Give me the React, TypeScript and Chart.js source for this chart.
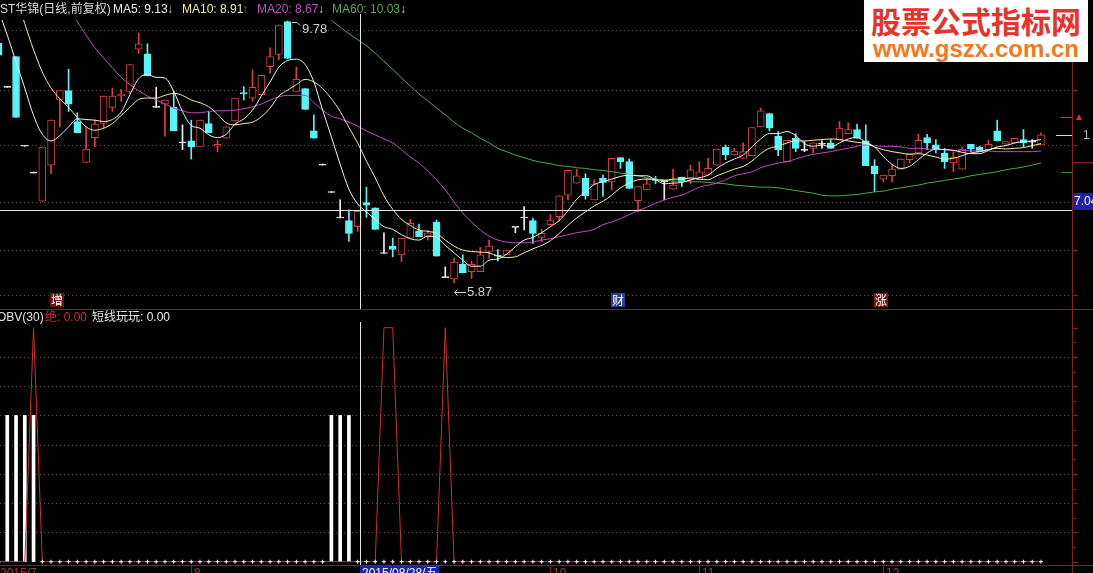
import { useEffect, useRef } from 'react';
import { Chart, registerables } from 'chart.js';

Chart.register(...registerables);

// Daily bars, numbered from the first (partly hidden) session.
const FIRST_DAY = -1;

const OPEN = [
  9.45, 8.79, 9.25, 7.91, 7.51, 7.09, 7.63, 8.61, 8.74, 8.28,
  7.67, 8.04, 8.25, 8.49, 8.66, 8.73, 9.36, 9.29, 8.49, 8.54,
  8.49, 7.96, 7.99, 7.90, 8.25, 7.91, 8.03, 8.29, 8.71, 8.63,
  8.68, 9.10, 9.28, 9.77, 8.73, 8.77, 8.14, 7.63, 7.22, 6.84,
  6.80, 6.71, 7.07, 6.99, 6.31, 6.42, 6.29, 6.54, 6.65, 6.56,
  6.78, 5.95, 5.93, 6.15, 6.04, 6.04, 6.34, 6.28, 6.29, 6.70,
  6.84, 6.80, 6.55, 6.74, 6.86, 7.18, 7.36, 7.43, 7.11, 7.43,
  7.38, 7.74, 7.68, 7.10, 7.26, 7.41, 7.38, 7.27, 7.45, 7.42,
  7.41, 7.48, 7.63, 7.90, 7.78, 7.73, 7.77, 8.20, 8.40, 8.06,
  7.68, 8.03, 7.85, 7.88, 7.94, 7.96, 8.00, 8.10, 8.16, 7.99,
  7.62, 7.42, 7.47, 7.57, 7.71, 7.81, 8.04, 7.93, 7.81, 7.66,
  7.57, 7.94, 7.90, 7.86, 8.14, 7.94, 7.96, 8.01, 7.97, 7.93,
];
const HIGH = [
  9.50, 8.79, 9.25, 7.91, 7.51, 7.90, 8.30, 8.74, 9.06, 8.41,
  8.20, 8.30, 8.66, 8.78, 8.76, 9.13, 9.60, 9.44, 8.79, 8.60,
  8.73, 8.23, 8.30, 8.30, 8.43, 8.00, 8.20, 8.63, 8.80, 9.05,
  8.97, 9.38, 9.72, 9.78, 9.09, 8.77, 8.38, 7.63, 7.22, 7.11,
  6.96, 6.94, 7.30, 6.99, 6.62, 6.54, 6.54, 6.82, 6.75, 6.66,
  6.81, 6.11, 6.24, 6.29, 6.19, 6.40, 6.51, 6.37, 6.36, 6.70,
  7.01, 6.84, 6.67, 6.89, 7.17, 7.55, 7.57, 7.50, 7.41, 7.48,
  7.73, 7.74, 7.72, 7.31, 7.43, 7.46, 7.38, 7.57, 7.45, 7.63,
  7.68, 7.73, 7.87, 7.93, 7.88, 7.96, 8.19, 8.48, 8.40, 8.13,
  8.00, 8.10, 7.98, 7.96, 7.99, 8.01, 8.28, 8.26, 8.24, 8.23,
  7.71, 7.48, 7.63, 7.72, 7.80, 8.09, 8.09, 8.01, 7.88, 7.83,
  7.90, 7.94, 7.91, 8.00, 8.30, 7.98, 8.03, 8.16, 8.01, 8.11,
];
const LOW = [
  9.24, 8.79, 8.34, 7.91, 7.51, 7.09, 7.50, 8.20, 8.43, 8.11,
  7.67, 7.90, 8.18, 8.43, 8.58, 8.70, 9.30, 8.96, 8.49, 8.06,
  8.14, 7.86, 7.72, 7.90, 8.11, 7.83, 8.03, 8.29, 8.60, 8.58,
  8.68, 9.00, 9.20, 9.22, 8.73, 8.46, 8.03, 7.63, 7.22, 6.84,
  6.49, 6.64, 6.85, 6.67, 6.31, 6.26, 6.19, 6.54, 6.56, 6.51,
  6.27, 5.95, 5.87, 6.02, 5.94, 6.04, 6.24, 6.20, 6.29, 6.62,
  6.66, 6.46, 6.49, 6.74, 6.79, 7.11, 7.36, 7.12, 7.11, 7.16,
  7.26, 7.58, 7.28, 6.93, 7.26, 7.35, 7.11, 7.27, 7.31, 7.35,
  7.41, 7.48, 7.63, 7.71, 7.78, 7.73, 7.77, 8.20, 8.14, 7.77,
  7.68, 7.83, 7.83, 7.81, 7.88, 7.88, 8.00, 8.10, 8.03, 7.62,
  7.23, 7.38, 7.38, 7.57, 7.66, 7.81, 7.86, 7.81, 7.58, 7.53,
  7.57, 7.83, 7.83, 7.86, 7.99, 7.94, 7.96, 7.90, 7.88, 7.93,
];
const CLOSE = [
  9.27, 8.79, 8.34, 7.91, 7.51, 7.90, 8.30, 8.74, 8.54, 8.11,
  7.87, 8.24, 8.66, 8.66, 8.69, 9.13, 9.44, 8.96, 8.49, 8.60,
  8.14, 7.96, 7.90, 8.30, 8.11, 7.94, 8.20, 8.63, 8.69, 8.79,
  8.97, 9.25, 9.72, 9.22, 8.91, 8.46, 8.03, 7.63, 7.22, 6.84,
  6.61, 6.94, 7.03, 6.67, 6.31, 6.37, 6.54, 6.76, 6.56, 6.62,
  6.27, 5.95, 6.18, 6.02, 6.15, 6.29, 6.42, 6.27, 6.36, 6.70,
  6.84, 6.61, 6.61, 6.81, 7.17, 7.55, 7.47, 7.17, 7.35, 7.37,
  7.73, 7.68, 7.28, 7.31, 7.35, 7.40, 7.38, 7.33, 7.38, 7.56,
  7.53, 7.58, 7.87, 7.78, 7.84, 7.83, 8.19, 8.44, 8.18, 7.86,
  8.00, 7.88, 7.85, 7.96, 7.94, 7.88, 8.18, 8.16, 8.03, 7.62,
  7.50, 7.48, 7.57, 7.72, 7.80, 8.00, 7.96, 7.87, 7.68, 7.75,
  7.87, 7.87, 7.83, 7.94, 7.99, 7.98, 8.03, 7.96, 7.97, 8.08,
];

const MA5 = [
  9.94, 9.57, 9.17, 8.78, 8.37, 8.09, 7.99, 8.07, 8.20, 8.32,
  8.31, 8.30, 8.28, 8.31, 8.42, 8.68, 8.92, 8.98, 8.94, 8.93,
  8.73, 8.43, 8.22, 8.18, 8.08, 8.04, 8.09, 8.24, 8.32, 8.45,
  8.66, 8.87, 9.09, 9.19, 9.21, 9.13, 8.87, 8.45, 8.05, 7.64,
  7.27, 7.05, 6.93, 6.82, 6.71, 6.67, 6.59, 6.53, 6.51, 6.57,
  6.55, 6.43, 6.32, 6.21, 6.12, 6.12, 6.21, 6.23, 6.30, 6.41,
  6.51, 6.55, 6.62, 6.71, 6.80, 6.95, 7.12, 7.23, 7.34, 7.38,
  7.42, 7.46, 7.48, 7.47, 7.47, 7.41, 7.35, 7.36, 7.37, 7.41,
  7.44, 7.48, 7.58, 7.66, 7.72, 7.78, 7.90, 8.02, 8.10, 8.10,
  8.13, 8.07, 7.95, 7.91, 7.93, 7.90, 7.96, 8.02, 8.04, 7.97,
  7.90, 7.76, 7.64, 7.58, 7.61, 7.71, 7.81, 7.87, 7.86, 7.85,
  7.82, 7.80, 7.80, 7.85, 7.90, 7.92, 7.96, 7.98, 7.99, 8.01,
];
const MA10 = [
  10.84, 10.54, 10.14, 9.74, 9.35, 9.02, 8.78, 8.62, 8.49, 8.34,
  8.20, 8.15, 8.18, 8.25, 8.37, 8.49, 8.61, 8.63, 8.63, 8.67,
  8.70, 8.67, 8.60, 8.56, 8.50, 8.39, 8.26, 8.23, 8.25, 8.27,
  8.35, 8.48, 8.66, 8.75, 8.83, 8.91, 8.87, 8.77, 8.62, 8.43,
  8.19, 7.96, 7.69, 7.44, 7.17, 6.97, 6.82, 6.73, 6.66, 6.64,
  6.61, 6.51, 6.42, 6.36, 6.34, 6.33, 6.32, 6.27, 6.25, 6.26,
  6.32, 6.38, 6.43, 6.50, 6.61, 6.73, 6.84, 6.93, 7.02, 7.09,
  7.18, 7.29, 7.36, 7.41, 7.42, 7.41, 7.40, 7.42, 7.42, 7.44,
  7.42, 7.41, 7.47, 7.52, 7.57, 7.61, 7.69, 7.80, 7.88, 7.91,
  7.96, 7.99, 7.99, 8.00, 8.01, 8.02, 8.01, 7.99, 7.97, 7.95,
  7.90, 7.86, 7.83, 7.81, 7.79, 7.80, 7.78, 7.75, 7.72, 7.73,
  7.77, 7.81, 7.83, 7.86, 7.88, 7.87, 7.88, 7.89, 7.92, 7.95,
];
const MA20 = [
  null, null, null, null, null, null, null, 10.24, 10.02, 9.77,
  9.57, 9.38, 9.23, 9.08, 8.94, 8.83, 8.74, 8.66, 8.60, 8.54,
  8.48, 8.44, 8.41, 8.41, 8.43, 8.44, 8.44, 8.45, 8.47, 8.50,
  8.54, 8.60, 8.65, 8.67, 8.67, 8.67, 8.56, 8.45, 8.36, 8.32,
  8.27, 8.21, 8.14, 8.08, 8.02, 7.96, 7.86, 7.75, 7.66, 7.54,
  7.41, 7.26, 7.08, 6.91, 6.78, 6.66, 6.57, 6.51, 6.48, 6.47,
  6.47, 6.48, 6.51, 6.53, 6.56, 6.59, 6.62, 6.64, 6.67, 6.74,
  6.78, 6.83, 6.89, 6.95, 7.00, 7.06, 7.11, 7.15, 7.18, 7.24,
  7.30, 7.33, 7.36, 7.41, 7.47, 7.50, 7.53, 7.59, 7.63, 7.66,
  7.68, 7.72, 7.76, 7.79, 7.81, 7.83, 7.86, 7.88, 7.91, 7.93,
  7.92, 7.91, 7.91, 7.90, 7.88, 7.88, 7.87, 7.86, 7.86, 7.85,
  7.85, 7.84, 7.84, 7.84, 7.83, 7.83, 7.83, 7.83, 7.83, 7.84,
];
const MA60 = [
  null, null, null, null, null, null, null, null, null, null,
  null, null, null, null, null, null, null, null, null, null,
  null, null, null, null, null, null, null, null, null, null,
  null, null, null, null, null, 10.03, 9.96, 9.88, 9.79, 9.69,
  9.59, 9.50, 9.41, 9.30, 9.18, 9.06, 8.93, 8.81, 8.69, 8.59,
  8.48, 8.38, 8.27, 8.18, 8.11, 8.03, 7.96, 7.88, 7.83, 7.78,
  7.74, 7.70, 7.67, 7.65, 7.62, 7.61, 7.59, 7.58, 7.56, 7.55,
  7.53, 7.51, 7.49, 7.47, 7.44, 7.42, 7.41, 7.39, 7.39, 7.38,
  7.38, 7.37, 7.36, 7.35, 7.33, 7.32, 7.31, 7.30, 7.30, 7.29,
  7.27, 7.25, 7.23, 7.21, 7.18, 7.17, 7.17, 7.18, 7.19, 7.21,
  7.23, 7.24, 7.27, 7.29, 7.31, 7.33, 7.36, 7.38, 7.40, 7.42,
  7.44, 7.47, 7.49, 7.51, 7.53, 7.56, 7.58, 7.60, 7.63, 7.66,
];

// Sub-chart series: "绝" line and "短线玩玩" sticks.
const JUE = [
  0, 0, 0, 0, 8, 0, 0, 0, 0, 0,
  0, 0, 0, 0, 0, 0, 0, 0, 0, 0,
  0, 0, 0, 0, 0, 0, 0, 0, 0, 0,
  0, 0, 0, 0, 0, 0, 0, 0, 0, 0,
  0, 0, 0, 0, 8, 8, 0, 0, 0, 0,
  0, 8, 0, 0, 0, 0, 0, 0, 0, 0,
  0, 0, 0, 0, 0, 0, 0, 0, 0, 0,
  0, 0, 0, 0, 0, 0, 0, 0, 0, 0,
  0, 0, 0, 0, 0, 0, 0, 0, 0, 0,
  0, 0, 0, 0, 0, 0, 0, 0, 0, 0,
  0, 0, 0, 0, 0, 0, 0, 0, 0, 0,
  0, 0, 0, 0, 0, 0, 0, 0, 0, 0,
];
const DUAN = [
  0, 5, 5, 5, 5, 0, 0, 0, 0, 0,
  0, 0, 0, 0, 0, 0, 0, 0, 0, 0,
  0, 0, 0, 0, 0, 0, 0, 0, 0, 0,
  0, 0, 0, 0, 0, 0, 0, 0, 5, 5,
  5, 0, 0, 0, 0, 0, 0, 0, 0, 0,
  0, 0, 0, 0, 0, 0, 0, 0, 0, 0,
  0, 0, 0, 0, 0, 0, 0, 0, 0, 0,
  0, 0, 0, 0, 0, 0, 0, 0, 0, 0,
  0, 0, 0, 0, 0, 0, 0, 0, 0, 0,
  0, 0, 0, 0, 0, 0, 0, 0, 0, 0,
  0, 0, 0, 0, 0, 0, 0, 0, 0, 0,
  0, 0, 0, 0, 0, 0, 0, 0, 0, 0,
];

const PRICE_GRID = [9.65, 8.75, 7.93, 7.08, 6.36, 5.69];
const SUB_GRID = [1, 2, 3, 4, 5, 6, 7];

// Day whose readings are shown in the two title rows.
const READOUT_DAY = 34;
// Day under the vertical cursor line, and the price shown in the cursor box.
const CURSOR_DAY = 40.3;
const CURSOR_PRICE_TEXT = '7.04';

const MARKERS = [
  { day: 6, text: '增', bg: '#6e1616' },
  { day: 70, text: '财', bg: '#2b3f92' },
  { day: 100, text: '涨', bg: '#7a1c1c' },
];

const MONTH_LABELS = [
  { day: 21, text: '8' },
  { day: 62, text: '10' },
  { day: 79, text: '11' },
  { day: 100, text: '12' },
];
const FIRST_DATE = '2015/7';
const CURSOR_DATE = '2015/08/28/五';

const UP = '#e23c3c';
const DOWN = '#55f5f8';
const FLAT = '#f0f0f0';
const GRID = '#6a4a4a';
const FRAME = '#8a1c1c';
const AXIS_X = 1072;
const X_MIN = -0.83;
const X_MAX = 121.54;
const FONT = '"Liberation Sans", "Noto Sans CJK SC", sans-serif';

const DAYS = OPEN.map((_, i) => FIRST_DAY + i);
const at = (day: number) => day - FIRST_DAY;

const direction = (i: number) => (CLOSE[i] > OPEN[i] ? 1 : CLOSE[i] < OPEN[i] ? -1 : 0);
const tone = (i: number) => (direction(i) > 0 ? UP : direction(i) < 0 ? DOWN : FLAT);

const maLine = (label: string, values: (number | null)[], color: string) => ({
  type: 'line' as const,
  label,
  data: DAYS.map((d, i) => ({ x: d, y: values[i] })),
  borderColor: color,
  borderWidth: 1,
  pointRadius: 0,
  cubicInterpolationMode: 'monotone' as const,
  order: 0,
});

const hline = (ctx: CanvasRenderingContext2D, y: number, x0: number, x1: number) => {
  ctx.beginPath();
  ctx.moveTo(x0, y);
  ctx.lineTo(x1, y);
  ctx.stroke();
};
const vline = (ctx: CanvasRenderingContext2D, x: number, y0: number, y1: number) => {
  ctx.beginPath();
  ctx.moveTo(x, y0);
  ctx.lineTo(x, y1);
  ctx.stroke();
};

const dayScale = () => ({
  type: 'linear' as const,
  min: X_MIN,
  max: X_MAX,
  offset: false,
  display: false,
});

const upperDecor = {
  id: 'upperDecor',
  beforeDatasetsDraw(chart: any) {
    const { ctx } = chart;
    const ys = chart.scales.y;
    ctx.save();
    ctx.strokeStyle = GRID;
    ctx.lineWidth = 1;
    ctx.setLineDash([1, 3]);
    PRICE_GRID.forEach((p) => hline(ctx, Math.round(ys.getPixelForValue(p)) + 0.5, 0, AXIS_X));
    ctx.restore();
  },
  afterDatasetsDraw(chart: any) {
    const { ctx } = chart;
    const xs = chart.scales.x;
    const ys = chart.scales.y;
    ctx.save();
    ctx.lineWidth = 1;

    // cursor cross
    const cx = Math.round(xs.getPixelForValue(CURSOR_DAY)) + 0.5;
    ctx.strokeStyle = '#e6e6e6';
    vline(ctx, cx, 14, 309);
    hline(ctx, 210.5, 0, AXIS_X);

    // highest high / lowest low
    let hi = 0;
    let lo = 0;
    HIGH.forEach((v, i) => { if (v > HIGH[hi]) hi = i; });
    LOW.forEach((v, i) => { if (v < LOW[lo]) lo = i; });
    ctx.strokeStyle = '#cfcfcf';
    ctx.fillStyle = '#cfcfcf';
    ctx.font = `13px ${FONT}`;
    ctx.textBaseline = 'middle';
    const hx = Math.round(xs.getPixelForValue(DAYS[hi]));
    const hy = Math.round(ys.getPixelForValue(HIGH[hi]));
    ctx.beginPath();
    ctx.moveTo(hx + 4, hy + 1.5);
    ctx.lineTo(hx + 9, hy + 1.5);
    ctx.lineTo(hx + 12, hy + 4.5);
    ctx.stroke();
    ctx.fillText(HIGH[hi].toFixed(2), hx + 14, hy + 8);
    const lx = Math.round(xs.getPixelForValue(DAYS[lo]));
    const ly = Math.round(ys.getPixelForValue(LOW[lo]));
    ctx.beginPath();
    ctx.moveTo(lx + 0.5, ly + 9.5);
    ctx.lineTo(lx + 12, ly + 9.5);
    ctx.moveTo(lx + 3.5, ly + 6.5);
    ctx.lineTo(lx + 0.5, ly + 9.5);
    ctx.lineTo(lx + 3.5, ly + 12.5);
    ctx.stroke();
    ctx.fillText(LOW[lo].toFixed(2), lx + 13, ly + 9.5);

    // event markers along the bottom of the price panel
    ctx.font = `12px "Noto Sans CJK SC", sans-serif`;
    ctx.textAlign = 'center';
    MARKERS.forEach((m) => {
      const mx = Math.round(xs.getPixelForValue(m.day) - 2.5);
      ctx.fillStyle = m.bg;
      ctx.fillRect(mx - 7, 293, 14, 14);
      ctx.fillStyle = '#ffffff';
      ctx.fillText(m.text, mx, 300.5);
    });
    ctx.textAlign = 'left';

    // right axis
    ctx.strokeStyle = FRAME;
    vline(ctx, AXIS_X + 0.5, 0, 309);
    PRICE_GRID.forEach((p) => hline(ctx, Math.round(ys.getPixelForValue(p)) + 0.5, AXIS_X, AXIS_X + 6));
    hline(ctx, 162.5, AXIS_X, 1093);
    ctx.strokeStyle = '#c03232';
    hline(ctx, 117.5, 1060, AXIS_X);
    ctx.strokeStyle = '#d8d8d8';
    hline(ctx, 135.5, 1056, AXIS_X);
    ctx.strokeStyle = '#3c9c3c';
    hline(ctx, 172.5, 1062, AXIS_X);

    ctx.fillStyle = '#d83030';
    ctx.beginPath();
    ctx.moveTo(1076, 120);
    ctx.lineTo(1082, 120);
    ctx.lineTo(1079, 114);
    ctx.closePath();
    ctx.fill();
    ctx.fillStyle = '#b8b8b8';
    ctx.font = `12px ${FONT}`;
    ctx.fillText('1', 1083, 136);

    ctx.fillStyle = '#1e22a8';
    ctx.fillRect(AXIS_X + 1, 193, 20, 17);
    ctx.fillStyle = '#ffffff';
    ctx.fillText(CURSOR_PRICE_TEXT, AXIS_X + 2, 202);
    ctx.restore();
  },
};

const LOWER_TOP = 309;

const lowerDecor = {
  id: 'lowerDecor',
  beforeDatasetsDraw(chart: any) {
    const { ctx } = chart;
    const ys = chart.scales.y;
    ctx.save();
    ctx.strokeStyle = GRID;
    ctx.lineWidth = 1;
    ctx.setLineDash([1, 3]);
    SUB_GRID.forEach((v) => hline(ctx, Math.round(ys.getPixelForValue(v)) + 0.5, 0, AXIS_X));
    ctx.restore();
  },
  afterDatasetsDraw(chart: any) {
    const { ctx } = chart;
    const xs = chart.scales.x;
    const ys = chart.scales.y;
    ctx.save();
    ctx.lineWidth = 1;
    const cx = Math.round(xs.getPixelForValue(CURSOR_DAY)) + 0.5;
    ctx.strokeStyle = '#e6e6e6';
    vline(ctx, cx, 322 - LOWER_TOP, 565 - LOWER_TOP);

    ctx.strokeStyle = FRAME;
    hline(ctx, 0.5, 0, 1093);
    hline(ctx, 565.5 - LOWER_TOP, 0, 1093);
    vline(ctx, AXIS_X + 0.5, 0, 264);
    for (let v = 0; v <= 8; v += 0.5) {
      const y = Math.round(ys.getPixelForValue(v)) + 0.5;
      hline(ctx, y, AXIS_X, AXIS_X + (v % 1 === 0 ? 6 : 4));
    }
    ctx.restore();
  },
};

export default function App() {
  const upperRef = useRef<HTMLCanvasElement>(null);
  const lowerRef = useRef<HTMLCanvasElement>(null);

  useEffect(() => {
    const upper = new Chart(upperRef.current!, {
      type: 'bar',
      data: {
        datasets: [
          maLine('MA5', MA5, '#f2f2f2'),
          maLine('MA10', MA10, '#f3efa2'),
          maLine('MA20', MA20, '#c24ac4'),
          maLine('MA60', MA60, '#4caa4c'),
          {
            type: 'bar',
            label: 'body',
            data: DAYS.map((d, i) => ({ x: d, y: [Math.min(OPEN[i], CLOSE[i]), Math.max(OPEN[i], CLOSE[i])] })),
            backgroundColor: DAYS.map((_, i) => (direction(i) > 0 ? '#000000' : tone(i))),
            borderColor: DAYS.map((_, i) => tone(i)),
            borderWidth: 1,
            borderSkipped: false,
            barThickness: 7,
            maxBarThickness: 7,
            minBarLength: 1,
            grouped: false,
            order: 1,
          },
          {
            type: 'bar',
            label: 'wick',
            data: DAYS.map((d, i) => ({ x: d, y: [LOW[i], HIGH[i]] })),
            backgroundColor: DAYS.map((_, i) => tone(i)),
            borderWidth: 0,
            barThickness: 1,
            maxBarThickness: 1,
            minBarLength: 1,
            grouped: false,
            order: 2,
          },
        ] as any,
      },
      options: {
        responsive: false,
        animation: false,
        devicePixelRatio: 1,
        events: [],
        layout: { autoPadding: false, padding: { left: 0, right: 1093 - AXIS_X, top: 20, bottom: 1 } },
        scales: {
          x: dayScale(),
          y: { type: 'linear', min: 5.4964, max: 9.795, display: false },
        },
        plugins: { legend: { display: false }, tooltip: { enabled: false } },
      } as any,
      plugins: [upperDecor],
    });

    const lower = new Chart(lowerRef.current!, {
      type: 'bar',
      data: {
        datasets: [
          {
            type: 'line',
            label: '绝',
            data: DAYS.map((d, i) => ({ x: d, y: JUE[i] })),
            borderColor: '#d42a2a',
            borderWidth: 1,
            pointRadius: 0,
            tension: 0,
            order: 1,
          },
          {
            type: 'bar',
            label: '短线玩玩',
            data: DAYS.map((d, i) => ({ x: d, y: DUAN[i] > 0 ? DUAN[i] : null })),
            backgroundColor: '#ffffff',
            barThickness: 3,
            maxBarThickness: 3,
            grouped: false,
            order: 2,
          },
          {
            type: 'line',
            label: '短线玩玩 0',
            data: DAYS.map((d, i) => ({ x: d, y: DUAN[i] === 0 ? 0 : null })),
            showLine: false,
            pointStyle: 'cross',
            pointRadius: 2,
            pointBorderColor: '#ffffff',
            pointBorderWidth: 1,
            order: 0,
          },
        ] as any,
      },
      options: {
        responsive: false,
        animation: false,
        devicePixelRatio: 1,
        events: [],
        layout: { autoPadding: false, padding: { left: 0, right: 1093 - AXIS_X, top: 7, bottom: 8 } },
        scales: {
          x: dayScale(),
          y: { type: 'linear', min: -0.113, max: 8.4, display: false },
        },
        plugins: { legend: { display: false }, tooltip: { enabled: false } },
      } as any,
      plugins: [lowerDecor],
    });

    return () => {
      upper.destroy();
      lower.destroy();
    };
  }, []);

  const r = at(READOUT_DAY);
  const dayX = (day: number) => ((day - X_MIN) / (X_MAX - X_MIN)) * AXIS_X;
  const span = (left: number, top: number, color: string, text: string, extra: any = {}) => (
    <span style={{ position: 'absolute', left, top, color, whiteSpace: 'nowrap', ...extra }}>{text}</span>
  );

  return (
    <div
      style={{
        position: 'fixed',
        left: 0,
        top: 0,
        width: 1093,
        height: 573,
        background: '#000',
        overflow: 'hidden',
        fontFamily: FONT,
        fontSize: 12,
        lineHeight: '14px',
      }}
    >
      <canvas ref={upperRef} width={1093} height={309} style={{ position: 'absolute', left: 0, top: 0 }} />
      <canvas ref={lowerRef} width={1093} height={264} style={{ position: 'absolute', left: 0, top: LOWER_TOP }} />

      {span(0, 2, '#dcdcdc', 'ST华锦(日线,前复权)')}
      {span(113, 2, '#ececec', `MA5: ${MA5[r]!.toFixed(2)}`)}
      {span(167, 2, '#a8c8f0', '↓')}
      {span(182, 2, '#f3efa2', `MA10: ${MA10[r]!.toFixed(2)}`)}
      {span(242, 2, '#e0482c', '↑')}
      {span(257, 2, '#c24ac4', `MA20: ${MA20[r]!.toFixed(2)}`)}
      {span(318, 2, '#c8d8f0', '↓')}
      {span(332, 2, '#4caa4c', `MA60: ${MA60[r]!.toFixed(2)}`)}
      {span(400, 2, '#c8d8f0', '↓')}

      <div
        style={{
          position: 'absolute',
          left: 864,
          top: 0,
          width: 224,
          height: 62,
          background: '#ffffff',
          textAlign: 'center',
        }}
      >
        <div
          style={{
            fontFamily: '"Noto Sans CJK SC", sans-serif',
            fontWeight: 700,
            fontSize: 30,
            lineHeight: '36px',
            color: '#e8322c',
            marginTop: 2,
          }}
        >
          股票公式指标网
        </div>
        <div
          style={{
            fontFamily: '"Liberation Sans", sans-serif',
            fontWeight: 700,
            fontSize: 24,
            lineHeight: '22px',
            color: '#f07a1e',
          }}
        >
          www.gszx.com.cn
        </div>
      </div>

      {span(-3, 310, '#e0e0e0', 'OBV(30)')}
      {span(45, 310, '#d42a2a', `绝: ${JUE[r].toFixed(2)}`)}
      {span(92, 310, '#e8e8e8', `短线玩玩: ${DUAN[r].toFixed(2)}`)}

      {span(0, 566, '#b03434', FIRST_DATE)}
      {MONTH_LABELS.map((m) => (
        <span
          key={m.text}
          style={{
            position: 'absolute',
            left: Math.round(dayX(m.day)),
            top: 566,
            color: '#b03434',
            borderLeft: '1px solid #8a1c1c',
            paddingLeft: 2,
            whiteSpace: 'nowrap',
          }}
        >
          {m.text}
        </span>
      ))}
      <span
        style={{
          position: 'absolute',
          left: Math.round(dayX(CURSOR_DAY)),
          top: 566,
          background: '#1e22a8',
          color: '#ffffff',
          padding: '0 2px',
          whiteSpace: 'nowrap',
        }}
      >
        {CURSOR_DATE}
      </span>
    </div>
  );
}
